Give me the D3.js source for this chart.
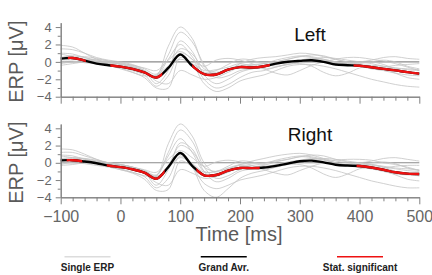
<!DOCTYPE html>
<html>
<head>
<meta charset="utf-8">
<script src="https://cdn.jsdelivr.net/npm/d3@7"></script>
<style>
  body { margin: 0; background: #fff; }
  text { font-family: "Liberation Sans", Arial, Helvetica, sans-serif; }
</style>
</head>
<body>
<script>
// time grid (ms) of all curves
const times = [-100, -80, -60, -40, -20, 0, 20, 40, 60, 80, 100, 120, 140, 160, 180, 200,
  220, 240, 260, 280, 300, 320, 340, 360, 380, 400, 420, 440, 460, 480, 500];

const xTickLabels = [-100, 0, 100, 200, 300, 400, 500];
const yTickLabels = [-4, -2, 0, 2, 4];

// single subject ERPs, left hemisphere
const leftSingles = [
  [1.9, 1.7, 1.0, 0.3, -0.2, -0.6, -0.9, -1.3, -1.6, 1.8, 4.0, 2.7, -0.5, -1.5, -1.0, -0.2, 0.3, 0.5, 0.6, 0.8, 1.0, 0.9, 0.6, 0.3, 0.0, -0.3, -0.4, -0.5, -0.7, -0.9, -1.0],
  [1.5, 1.4, 1.0, 0.5, 0.2, 0.0, -0.3, -0.8, -1.4, 0.8, 3.4, 2.3, -0.3, -1.8, -1.6, -1.0, -0.8, -0.5, 0.0, 0.3, 0.6, 0.5, 0.2, 0.0, -0.2, -0.1, 0.0, -0.3, -0.8, -1.2, -1.5],
  [0.9, 0.6, 0.3, 0.0, -0.2, -0.2, -0.4, -1.0, -2.5, -1.0, 2.4, 1.2, -1.5, -2.5, -2.0, -1.2, -0.8, -0.6, -0.3, 0.0, 0.2, 0.4, 0.3, 0.0, -0.2, -0.4, -0.6, -0.6, -0.4, -0.3, -0.2],
  [0.5, 0.7, 0.5, 0.2, 0.0, -0.3, -0.6, -1.0, -1.8, -0.6, 1.5, 0.9, -0.8, -1.2, -0.8, -0.4, -0.3, -0.2, 0.0, 0.3, 0.6, 0.8, 0.7, 0.3, 0.0, 0.0, 0.2, 0.5, 0.6, 0.4, 0.3],
  [0.2, 0.3, 0.3, 0.0, -0.3, -0.6, -1.0, -1.5, -2.8, -1.6, 1.0, 0.3, -2.0, -3.0, -2.6, -1.8, -1.2, -1.0, -0.6, -0.3, -0.2, -0.5, -1.2, -1.6, -1.3, -0.7, -0.5, -0.8, -1.3, -1.8, -2.0],
  [0.0, 0.1, -0.1, -0.2, -0.4, -0.7, -1.2, -1.8, -3.0, -3.0, 0.5, -0.2, -2.5, -3.4, -3.0, -2.2, -1.8, -1.5, -1.0, -0.5, -0.3, -0.3, -0.5, -0.8, -1.2, -1.6, -2.0, -2.3, -2.6, -2.8, -2.9],
  [-0.4, -0.2, 0.0, 0.1, 0.0, -0.3, -0.6, -1.1, -2.2, -2.5, -1.0, -1.5, -2.0, -1.8, -1.2, -0.6, -0.4, -0.2, 0.2, 0.5, 0.7, 0.6, 0.3, 0.0, -0.3, -0.5, -0.8, -1.0, -1.3, -1.5, -1.6],
  [0.3, 0.5, 0.6, 0.4, 0.1, -0.2, -0.5, -1.0, -1.6, 0.3, 2.0, 0.6, -1.2, -1.0, -0.3, 0.3, 0.2, -0.2, -0.5, -0.3, 0.0, 0.3, 0.5, 0.4, 0.2, 0.0, -0.2, -0.5, -0.7, -0.8, -0.9],
  [1.0, 0.9, 0.5, 0.1, -0.3, -0.8, -1.2, -1.6, -1.5, -0.5, 0.3, -0.2, -1.0, -0.9, -0.6, -0.2, -0.5, -0.8, -0.6, -0.2, 0.1, 0.2, 0.0, -0.3, -0.4, -0.2, 0.0, 0.2, 0.0, -0.5, -0.8],
  [-0.2, 0.0, 0.2, 0.3, 0.1, -0.1, -0.4, -0.7, -1.0, 0.2, 1.2, 0.3, -0.5, 0.2, 0.4, 0.2, -0.2, -0.8, -1.3, -1.5, -1.0, -0.4, 0.0, 0.3, 0.5, 0.5, 0.3, 0.1, -0.2, -0.6, -1.0]
];

// single subject ERPs, right hemisphere
const rightSingles = [
  [1.6, 1.5, 1.0, 0.4, -0.1, -0.5, -0.8, -1.2, -1.5, 2.2, 4.5, 3.1, 0.0, -1.2, -0.8, -0.2, 0.2, 0.5, 0.8, 1.0, 1.1, 0.9, 0.5, 0.2, 0.0, -0.2, -0.3, -0.5, -0.7, -0.9, -1.0],
  [1.2, 1.2, 0.8, 0.4, 0.0, -0.2, -0.5, -1.0, -1.5, 1.2, 3.8, 2.5, -0.5, -1.8, -1.5, -0.8, -0.5, -0.3, 0.1, 0.4, 0.7, 0.6, 0.3, 0.0, -0.3, -0.3, -0.2, -0.5, -1.0, -1.3, -1.5],
  [0.8, 0.6, 0.4, 0.1, -0.2, -0.3, -0.5, -1.1, -2.6, -0.8, 2.3, 1.6, -1.0, -2.2, -1.8, -1.0, -0.7, -0.5, -0.2, 0.1, 0.3, 0.5, 0.4, 0.0, -0.3, -0.5, -0.7, -0.6, -0.4, -0.3, -0.3],
  [0.5, 0.6, 0.5, 0.2, 0.0, -0.2, -0.5, -0.9, -1.6, -0.3, 2.0, 1.3, -0.5, -1.0, -0.6, -0.2, -0.1, 0.0, 0.2, 0.4, 0.7, 0.9, 0.8, 0.4, 0.1, 0.0, 0.2, 0.5, 0.6, 0.4, 0.2],
  [0.2, 0.3, 0.2, -0.1, -0.4, -0.7, -1.1, -1.6, -2.9, -1.8, 0.8, -0.5, -3.2, -4.0, -3.0, -1.8, -1.2, -0.9, -0.5, -0.2, -0.2, -0.6, -1.3, -1.7, -1.3, -0.7, -0.5, -0.9, -1.4, -1.9, -2.1],
  [0.0, 0.0, -0.1, -0.3, -0.5, -0.8, -1.2, -1.9, -3.2, -3.1, 0.2, -0.5, -2.4, -3.0, -2.6, -2.0, -1.7, -1.4, -1.0, -0.6, -0.4, -0.4, -0.6, -0.9, -1.3, -1.7, -2.1, -2.4, -2.7, -2.9, -2.9],
  [-0.3, -0.2, 0.0, 0.0, -0.1, -0.3, -0.7, -1.2, -2.3, -2.6, -0.8, -1.2, -1.8, -1.6, -1.1, -0.5, -0.3, -0.1, 0.3, 0.6, 0.8, 0.7, 0.4, 0.0, -0.3, -0.5, -0.7, -1.0, -1.3, -1.4, -1.5],
  [0.4, 0.5, 0.5, 0.3, 0.0, -0.2, -0.5, -0.9, -1.4, 0.8, 2.8, 1.2, -1.0, -1.0, -0.4, 0.2, 0.1, -0.2, -0.4, -0.2, 0.1, 0.3, 0.5, 0.4, 0.2, 0.0, -0.2, -0.4, -0.6, -0.7, -0.8],
  [0.9, 0.8, 0.4, 0.0, -0.4, -0.8, -1.1, -1.5, -1.6, -0.6, 0.6, -0.1, -1.1, -1.0, -0.7, -0.3, -0.5, -0.7, -0.5, -0.1, 0.1, 0.3, 0.1, -0.2, -0.3, -0.2, 0.0, 0.1, -0.1, -0.6, -0.9],
  [-0.2, 0.1, 0.2, 0.2, 0.0, -0.2, -0.5, -0.8, -1.1, 0.4, 1.4, 0.6, -0.4, 0.1, 0.3, 0.1, -0.3, -0.8, -1.2, -1.4, -0.9, -0.4, 0.0, 0.3, 0.4, 0.4, 0.3, 0.0, -0.2, -0.5, -0.9]
];

// grand averages
const leftAvg = [0.38, 0.45, 0.15, -0.2, -0.38, -0.55, -0.8, -1.2, -1.8, -0.7, 0.85, -0.45, -1.4, -1.45, -0.9, -0.6,
  -0.65, -0.5, -0.2, 0.02, 0.12, 0.18, 0.0, -0.3, -0.38, -0.45, -0.62, -0.8, -0.98, -1.18, -1.35];
const rightAvg = [0.28, 0.3, 0.15, -0.05, -0.32, -0.5, -0.75, -1.15, -1.85, -0.5, 1.13, -0.35, -1.45, -1.42, -0.9, -0.6,
  -0.62, -0.55, -0.35, -0.1, 0.18, 0.25, 0.05, -0.22, -0.32, -0.37, -0.55, -0.8, -1.1, -1.25, -1.3];

// statistically significant time windows (ms)
const leftSig = [[-88, -58], [-17, 70], [120, 250], [390, 500]];
const rightSig = [[-90, -64], [-23, 74], [127, 233], [395, 500]];

const panels = [
  { title: 'Left', singles: leftSingles, avg: leftAvg, sig: leftSig, range: [96.7, 22.7], titleY: 40.5, labels: false },
  { title: 'Right', singles: rightSingles, avg: rightAvg, sig: rightSig, range: [197.3, 124], titleY: 140.5, labels: true }
];

const legendItems = ['Single ERP', 'Grand Avr.', 'Stat. significant'];
const legendColors = ['#dcdcdc', '#000', '#ee1111'];

const W = 432, H = 275;
const svg = d3.select('body').append('svg')
  .attr('width', W)
  .attr('height', H);

const x = d3.scaleLinear().domain([-100, 500]).range([60.7, 419.3]);
const fmt = d => d < 0 ? '\u2212' + Math.abs(d) : '' + d;

panels.forEach(function (p, pi) {
  const y = d3.scaleLinear().domain([-4, 4.5]).range(p.range);
  const g = svg.append('g');

  const line = d3.line()
    .x((d, i) => x(times[i]))
    .y(d => y(d))
    .curve(d3.curveCatmullRom.alpha(0.5));

  // zero line
  g.append('line')
    .attr('x1', x(-100)).attr('x2', x(500))
    .attr('y1', y(0)).attr('y2', y(0))
    .attr('stroke', '#8a8a8a')
    .attr('stroke-width', 1.1);

  g.selectAll('path.single')
    .data(p.singles)
    .enter()
    .append('path')
    .attr('class', 'single')
    .attr('fill', 'none')
    .attr('stroke', '#c4c4c4')
    .attr('stroke-width', 0.8)
    .attr('d', line);

  // clip for significant windows
  const clipId = 'sig' + pi;
  const clip = svg.append('clipPath').attr('id', clipId);
  clip.selectAll('rect')
    .data(p.sig)
    .enter()
    .append('rect')
    .attr('x', d => x(d[0]))
    .attr('width', d => x(d[1]) - x(d[0]))
    .attr('y', p.range[1] - 10)
    .attr('height', p.range[0] - p.range[1] + 20);

  g.append('path')
    .datum(p.avg)
    .attr('fill', 'none')
    .attr('stroke', '#000')
    .attr('stroke-width', 2.4)
    .attr('d', line);
  g.append('path')
    .datum(p.avg)
    .attr('fill', 'none')
    .attr('stroke', '#ee1111')
    .attr('stroke-width', 2.4)
    .attr('clip-path', 'url(#' + clipId + ')')
    .attr('d', line);

  // y axis
  const yMinor = d3.axisLeft(y).tickValues([-3, -1, 1, 3]).tickSize(3).tickFormat('').tickSizeOuter(0);
  const yMajor = d3.axisLeft(y).tickValues(yTickLabels).tickSize(5).tickPadding(4).tickFormat(fmt).tickSizeOuter(0);
  const yg = g.append('g').attr('transform', 'translate(' + x(-100) + ',0)');
  yg.call(yMinor);
  yg.append('g').call(yMajor);
  yg.selectAll('path, line').attr('stroke', '#808080');
  yg.selectAll('text').attr('fill', '#666').style('font-size', '13px');

  // x axis
  const xMinor = d3.axisBottom(x).tickValues(times.filter(t => t % 100 !== 0)).tickSize(4).tickFormat('').tickSizeOuter(0);
  const xMajor = d3.axisBottom(x).tickValues(xTickLabels).tickSize(7).tickPadding(6)
    .tickFormat(p.labels ? fmt : '').tickSizeOuter(0);
  const xg = g.append('g').attr('transform', 'translate(0,' + p.range[0] + ')');
  xg.call(xMinor);
  xg.append('g').call(xMajor);
  xg.selectAll('path, line').attr('stroke', '#808080');
  xg.selectAll('text').attr('fill', '#666').style('font-size', '16px');

  // y label
  g.append('text')
    .attr('transform', 'translate(23,' + ((p.range[0] + p.range[1]) / 2 + 2) + ') rotate(-90)')
    .attr('text-anchor', 'middle')
    .attr('fill', '#5a5a5a')
    .style('font-size', '20px')
    .text('ERP [\u03bcV]');

  // title
  g.append('text')
    .attr('x', 310)
    .attr('y', p.titleY)
    .attr('text-anchor', 'middle')
    .attr('fill', '#111')
    .style('font-size', '19px')
    .text(p.title);
});

svg.append('text')
  .attr('x', 239)
  .attr('y', 241)
  .attr('text-anchor', 'middle')
  .attr('fill', '#5a5a5a')
  .style('font-size', '20px')
  .text('Time [ms]');

// legend
const legendX = d3.scalePoint().domain(legendItems).range([87.5, 360]);
const lg = svg.append('g');
legendItems.forEach(function (name, i) {
  lg.append('line')
    .attr('x1', legendX(name) - 23).attr('x2', legendX(name) + 23)
    .attr('y1', 256.7).attr('y2', 256.7)
    .attr('stroke', legendColors[i])
    .attr('stroke-width', 1.6);
  lg.append('text')
    .attr('x', legendX(name))
    .attr('y', 271)
    .attr('text-anchor', 'middle')
    .attr('fill', '#222')
    .style('font-size', '10px')
    .style('font-weight', 'bold')
    .text(name);
});
</script>
</body>
</html>
